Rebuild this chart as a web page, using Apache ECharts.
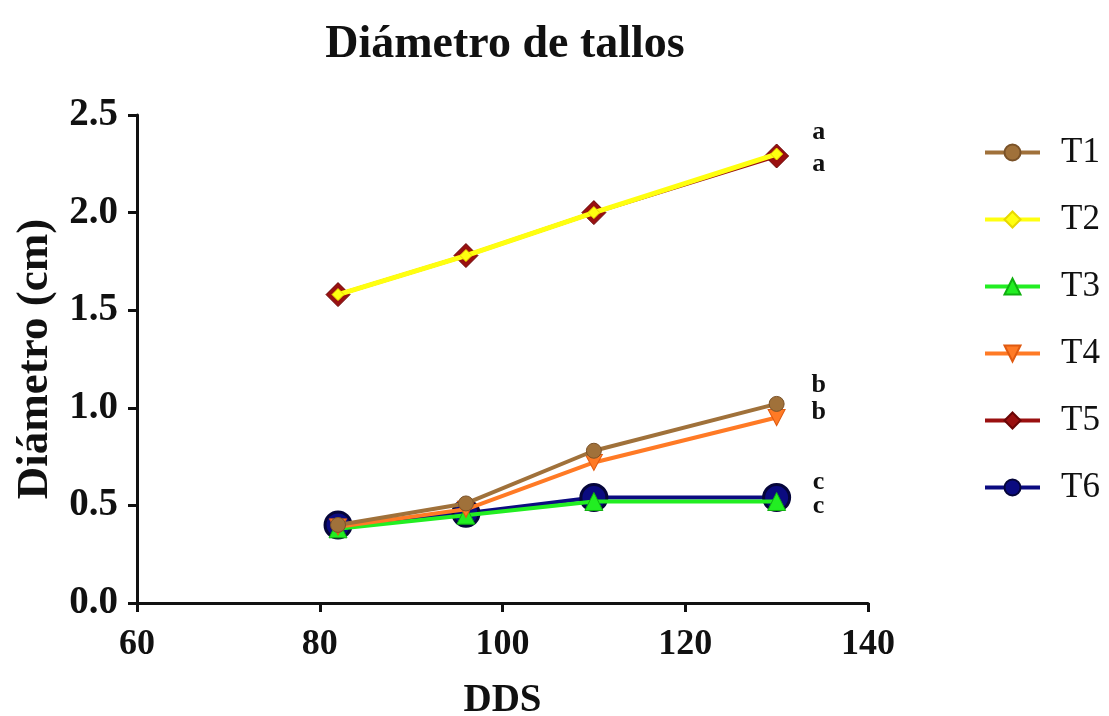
<!DOCTYPE html>
<html>
<head>
<meta charset="utf-8">
<script src="https://cdn.jsdelivr.net/npm/echarts@6/dist/echarts.min.js"></script>
<style>html,body{margin:0;padding:0;background:#fff;overflow:hidden}#c{width:1109px;height:716px}</style>
</head>
<body>
<div id="c"></div>
<script>
const days = [82, 96, 110, 130];
const seriesNames = ['T1', 'T2', 'T3', 'T4', 'T5', 'T6'];
const T1 = [0.40, 0.51, 0.78, 1.02];
const T2 = [1.58, 1.78, 2.00, 2.30];
const T3 = [0.38, 0.45, 0.52, 0.52];
const T4 = [0.39, 0.48, 0.72, 0.95];
const T5 = [1.58, 1.78, 2.00, 2.29];
const T6 = [0.40, 0.46, 0.54, 0.54];
const letters = ['b', 'a', 'c', 'b', 'a', 'c'];
const xTicks = [60, 80, 100, 120, 140];
const yTicks = [0.0, 0.5, 1.0, 1.5, 2.0, 2.5];

const values = [T1, T2, T3, T4, T5, T6];
const serif = 'Liberation Serif';

const styles = [
  { color: '#A0713A', border: '#7A5228', symbol: 'circle', size: 15, width: 4, z: 6, off: [42, -19] },
  { color: '#FFFF10', border: '#E8D800', symbol: 'diamond', size: 12, width: 5, z: 7, off: [42, -22] },
  { color: '#22EE22', border: '#10B010', symbol: 'triangle', size: 18, width: 4, z: 4, off: [42, 5] },
  { color: '#FF7A25', border: '#E05A10', symbol: 'path://M0,0 L10,0 L5,9 Z', size: [17, 16], width: 4, z: 5, off: [42, -5] },
  { color: '#9A1010', border: '#6A0505', symbol: 'diamond', size: 24, width: 4, z: 3, off: [42, 8] },
  { color: '#0B0B80', border: '#05053A', symbol: 'circle', size: 26, width: 4, z: 2, off: [42, -15] }
];

const series = seriesNames.map((name, i) => {
  const st = styles[i];
  return {
    name: name,
    type: 'line',
    z: st.z,
    symbol: st.symbol,
    symbolSize: st.size,
    lineStyle: { color: st.color, width: st.width },
    itemStyle: { color: st.color, borderColor: st.border, borderWidth: i === 5 ? 3 : 1 },
    emphasis: { disabled: true },
    data: days.map((d, j) => {
      const item = { value: [d, values[i][j]] };
      if (j === days.length - 1) {
        item.label = {
          show: true,
          formatter: letters[i],
          position: 'inside',
          offset: st.off,
          fontFamily: serif,
          fontWeight: 'bold',
          fontSize: 26,
          color: '#111'
        };
      }
      return item;
    })
  };
});

const chart = echarts.init(document.getElementById('c'), null, { renderer: 'canvas' });
chart.setOption({
  animation: false,
  backgroundColor: '#fff',
  title: {
    text: 'Diámetro de tallos',
    left: 500,
    textAlign: 'center',
    top: 17,
    textStyle: { fontFamily: serif, fontWeight: 'bold', fontSize: 46, color: '#111' }
  },
  grid: { left: 137, right: 241, top: 115, bottom: 113, containLabel: false, outerBoundsMode: 'none' },
  legend: {
    orient: 'vertical',
    left: 978,
    top: 130,
    itemWidth: 55,
    itemHeight: 20,
    itemGap: 32,
    data: seriesNames,
    lineStyle: { width: 4 },
    textStyle: { fontFamily: serif, fontSize: 35, color: '#111', lineHeight: 34, padding: [0, 0, 0, 16] }
  },
  xAxis: {
    type: 'value',
    min: xTicks[0],
    max: xTicks[xTicks.length - 1],
    interval: 20,
    name: 'DDS',
    nameLocation: 'middle',
    nameGap: 78,
    nameTextStyle: { fontFamily: serif, fontWeight: 'bold', fontSize: 39, color: '#111' },
    axisLine: { lineStyle: { color: '#111', width: 3 } },
    axisTick: { show: true, length: 9, lineStyle: { color: '#111', width: 3 } },
    axisLabel: { fontFamily: serif, fontWeight: 'bold', fontSize: 36, color: '#111', margin: 24 },
    splitLine: { show: false }
  },
  yAxis: {
    type: 'value',
    min: yTicks[0],
    max: yTicks[yTicks.length - 1],
    interval: 0.5,
    name: 'Diámetro (cm)',
    nameLocation: 'middle',
    nameGap: 77,
    nameRotate: 90,
    nameTextStyle: { fontFamily: serif, fontWeight: 'bold', fontSize: 45, color: '#111' },
    axisLine: { show: true, lineStyle: { color: '#111', width: 3 } },
    axisTick: { show: true, length: 9, lineStyle: { color: '#111', width: 3 } },
    axisLabel: { fontFamily: serif, fontWeight: 'bold', fontSize: 39, color: '#111', margin: 19,
      formatter: v => v.toFixed(1) },
    splitLine: { show: false }
  },
  series: series
});
</script>
</body>
</html>
